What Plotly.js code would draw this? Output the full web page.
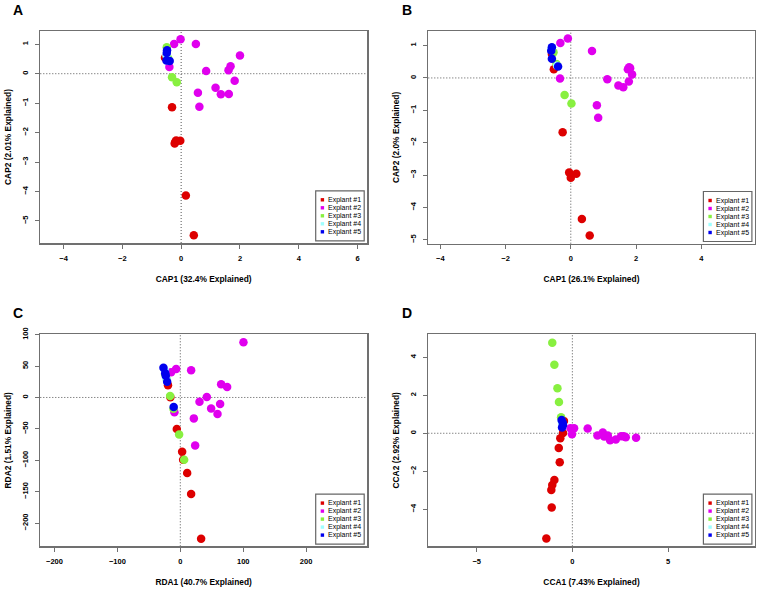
<!DOCTYPE html>
<html>
<head>
<meta charset="utf-8">
<script src="https://cdn.plot.ly/plotly-3.0.1.min.js"></script>
<style>
html,body{margin:0;padding:0;background:#fff;}
#chart{width:758px;height:590px;}
</style>
</head>
<body>
<div id="chart"></div>
<script>
// ---------------- data ----------------
const groupLabels = ["Explant #1", "Explant #2", "Explant #3", "Explant #4", "Explant #5"];
const groupColors = ["#DD0000", "#E000EE", "#88F040", "#A0FFFF", "#0000EE"];
const panelLetters = ["A", "B", "C", "D"];
const xTitles = ["CAP1 (32.4% Explained)", "CAP1 (26.1% Explained)", "RDA1 (40.7% Explained)", "CCA1 (7.43% Explained)"];
const yTitles = ["CAP2 (2.01% Explained)", "CAP2 (2.0% Explained)", "RDA2 (1.51% Explained)", "CCA2 (2.92% Explained)"];

// Panel A (CAP)
const aRedX = [-0.55, -0.31, -0.17, -0.03, -0.22, -0.20, 0.16, 0.43];
const aRedY = [0.54, -1.14, -2.27, -2.28, -2.37, -2.32, -4.14, -5.49];
const aMagX = [-0.02, -0.24, 0.50, 2.00, 1.68, 1.61, 0.85, -0.40, 1.82, 1.17, 0.57, 1.35, 1.62, 0.62];
const aMagY = [1.17, 1.01, 1.01, 0.62, 0.25, 0.12, 0.09, 0.23, -0.24, -0.48, -0.65, -0.70, -0.69, -1.12];
const aGrnX = [-0.49, -0.44, -0.31, -0.15];
const aGrnY = [0.90, 0.52, -0.12, -0.29];
const aCynX = [-0.50, -0.45];
const aCynY = [0.62, 0.45];
const aBluX = [-0.48, -0.49, -0.50, -0.39];
const aBluY = [0.80, 0.70, 0.45, 0.43];

// Panel B (CAP)
const bRedX = [-0.58, -0.52, -0.25, -0.05, 0.17, 0.00, 0.34, 0.58];
const bRedY = [0.74, 0.27, -1.68, -2.92, -2.96, -3.08, -4.36, -4.87];
const bMagX = [-0.32, -0.09, 0.65, 1.79, 1.75, 1.82, 1.88, 1.78, 1.12, 1.46, 1.61, -0.33, 0.80, 0.84];
const bMagY = [1.08, 1.22, 0.83, 0.33, 0.27, 0.30, 0.11, -0.11, -0.04, -0.23, -0.29, -0.02, -0.84, -1.23];
const bGrnX = [-0.53, -0.44, -0.19, 0.02];
const bGrnY = [0.79, 0.43, -0.53, -0.79];
const bCynX = [-0.60, -0.42];
const bCynY = [0.88, 0.38];
const bBluX = [-0.58, -0.60, -0.58, -0.39];
const bBluY = [0.95, 0.84, 0.59, 0.35];

// Panel C (RDA)
const cRedX = [-19.6, -15.8, -5.6, 2.9, 4.5, 10.9, 17.2, 33.1];
const cRedY = [19.5, 0.5, -50.1, -86.4, -99.1, -120.3, -153.8, -225.0];
const cMagX = [100.4, -6.6, -14.6, 17.2, 64.9, 74.4, 42.1, 30.5, 63.3, 49.0, 59.1, -9.3, 21.5, 23.6];
const cMagY = [87.8, 45.3, 40.0, 43.2, 20.9, 16.6, 0.7, -6.7, -10.5, -17.4, -26.4, -23.7, -33.3, -76.3];
const cGrnX = [-24.0, -21.5, -16.2, -10.9, -1.9, 6.1];
const cGrnY = [37.0, 28.5, 2.3, -18.0, -58.8, -99.2];
const cCynX = [-24.5, -22.0];
const cCynY = [42.0, 30.0];
const cBluX = [-26.8, -24.0, -23.1, -20.9, -10.5];
const cBluY = [47.4, 38.7, 34.6, 25.0, -15.0];

// Panel D (CCA)
const dRedX = [-0.44, -0.49, -0.63, -0.71, -0.66, -0.94, -1.05, -1.10, -1.08, -1.36];
const dRedY = [0.65, 0.02, -0.26, -0.77, -1.53, -2.46, -2.72, -2.98, -3.91, -5.54];
const dMagX = [-0.10, 0.09, -0.02, 0.80, 1.31, 1.59, 1.66, 1.85, 1.97, 2.27, 2.55, 2.69, 2.79, 3.33];
const dMagY = [0.26, 0.26, -0.05, 0.25, -0.12, 0.04, -0.17, -0.12, -0.37, -0.33, -0.16, -0.16, -0.21, -0.23];
const dGrnX = [-1.05, -0.94, -0.78, -0.70, -0.59];
const dGrnY = [4.77, 3.61, 2.37, 1.65, 0.84];
const dCynX = [-0.55, -0.52];
const dCynY = [0.60, 0.35];
const dBluX = [-0.56, -0.49, -0.54, -0.50];
const dBluY = [0.70, 0.44, 0.30, 0.55];

const panelData = [
  [[aRedX, aRedY], [aMagX, aMagY], [aGrnX, aGrnY], [aCynX, aCynY], [aBluX, aBluY]],
  [[bRedX, bRedY], [bMagX, bMagY], [bGrnX, bGrnY], [bCynX, bCynY], [bBluX, bBluY]],
  [[cRedX, cRedY], [cMagX, cMagY], [cGrnX, cGrnY], [cCynX, cCynY], [cBluX, cBluY]],
  [[dRedX, dRedY], [dMagX, dMagY], [dGrnX, dGrnY], [dCynX, dCynY], [dBluX, dBluY]]
];

// ---------------- layout helpers ----------------
const W = 758, H = 590;
const fx = p => p / W;
const fy = p => 1 - p / H;
const boxes = [
  {l: 40.3, r: 367, t: 31, b: 243},
  {l: 428.3, r: 754.7, t: 31, b: 243.7},
  {l: 40.3, r: 367, t: 334.3, b: 546.3},
  {l: 428.3, r: 754.7, t: 334.3, b: 546.3}
];
const xRanges = [[-4.79, 6.32], [-4.37, 5.64], [-222.6, 296.8], [-7.53, 9.53]];
const yRanges = [[-5.75, 1.45], [-5.12, 1.45], [-237, 100.6], [-5.95, 5.21]];
const xDticks = [2, 2, 100, 5];
const yDticks = [1, 1, 50, 2];

const FONT = "Liberation Sans, Arial, Helvetica, sans-serif";
const frameColor = "#707070";

const traces = [];
const layout = {
  width: W, height: H,
  margin: {l: 0, r: 0, t: 0, b: 0},
  paper_bgcolor: "#ffffff",
  plot_bgcolor: "#ffffff",
  showlegend: false,
  font: {family: FONT, color: "#000"},
  shapes: [],
  annotations: []
};

panelData.forEach((groups, p) => {
  const sfx = p === 0 ? "" : String(p + 1);
  const bx = boxes[p];
  groups.forEach((xy, g) => {
    traces.push({
      type: "scatter", mode: "markers",
      x: xy[0], y: xy[1],
      xaxis: "x" + sfx, yaxis: "y" + sfx,
      name: groupLabels[g],
      marker: {color: groupColors[g], size: 8.5, line: {width: 0}},
      showlegend: false
    });
  });
  const axCommon = {
    showgrid: false, zeroline: false,
    showline: true, mirror: true, linecolor: frameColor, linewidth: 1.5,
    ticks: "outside", ticklen: 4, tickwidth: 1, tickcolor: frameColor,
    tickfont: {family: FONT, size: 7.5, color: "#000", weight: "bold"},
    fixedrange: true
  };
  layout["xaxis" + sfx] = Object.assign({}, axCommon, {
    domain: [fx(bx.l), fx(bx.r)],
    range: xRanges[p], autorange: false,
    tick0: 0, dtick: xDticks[p],
    ticklabelstandoff: 3,
    anchor: "y" + sfx,
    title: {text: xTitles[p], font: {family: FONT, size: 8.4, color: "#000", weight: "bold"}, standoff: 14}
  });
  layout["yaxis" + sfx] = Object.assign({}, axCommon, {
    domain: [fy(bx.b), fy(bx.t)],
    range: yRanges[p], autorange: false,
    tick0: 0, dtick: yDticks[p],
    tickangle: -90,
    ticklabelstandoff: 4,
    anchor: "x" + sfx,
    title: {text: yTitles[p], font: {family: FONT, size: 8.4, color: "#000", weight: "bold"}, standoff: 8}
  });
  // dotted zero lines
  layout.shapes.push({type: "line", layer: "below", xref: "x" + sfx, yref: "y" + sfx + " domain",
    x0: 0, x1: 0, y0: 0, y1: 1, line: {color: "#555", width: 1, dash: "1px,2px"}});
  layout.shapes.push({type: "line", layer: "below", xref: "x" + sfx + " domain", yref: "y" + sfx,
    x0: 0, x1: 1, y0: 0, y1: 0, line: {color: "#555", width: 1, dash: "1px,2px"}});
  // panel letter
  layout.annotations.push({text: panelLetters[p], xref: "paper", yref: "paper",
    x: fx(p % 2 === 0 ? 11 : 400), y: fy(p < 2 ? 10 : 313), xanchor: "left", yanchor: "middle",
    showarrow: false, font: {family: FONT, size: 14, color: "#000", weight: "bold"}});
  // legend box
  const lr = bx.r - 2.8, ll = lr - 48.5, lb = bx.b - 2.2, lt = lb - 50;
  layout.shapes.push({type: "rect", layer: "above", xref: "paper", yref: "paper",
    x0: fx(ll), x1: fx(lr), y0: fy(lb), y1: fy(lt),
    line: {color: "#666", width: 1.2}, fillcolor: "#ffffff"});
  groupLabels.forEach((lab, g) => {
    const yy = lt + 9 + 8 * g;
    layout.shapes.push({type: "rect", layer: "above", xref: "paper", yref: "paper",
      x0: fx(ll + 5), x1: fx(ll + 8.4), y0: fy(yy + 1.7), y1: fy(yy - 1.7),
      line: {width: 0}, fillcolor: groupColors[g]});
    layout.annotations.push({text: lab, xref: "paper", yref: "paper",
      x: fx(ll + 10.5), y: fy(yy), xanchor: "left", yanchor: "middle",
      showarrow: false, font: {family: FONT, size: 7, color: "#000"}});
  });
});

Plotly.newPlot("chart", traces, layout, {staticPlot: true, displayModeBar: false});
</script>
</body>
</html>
